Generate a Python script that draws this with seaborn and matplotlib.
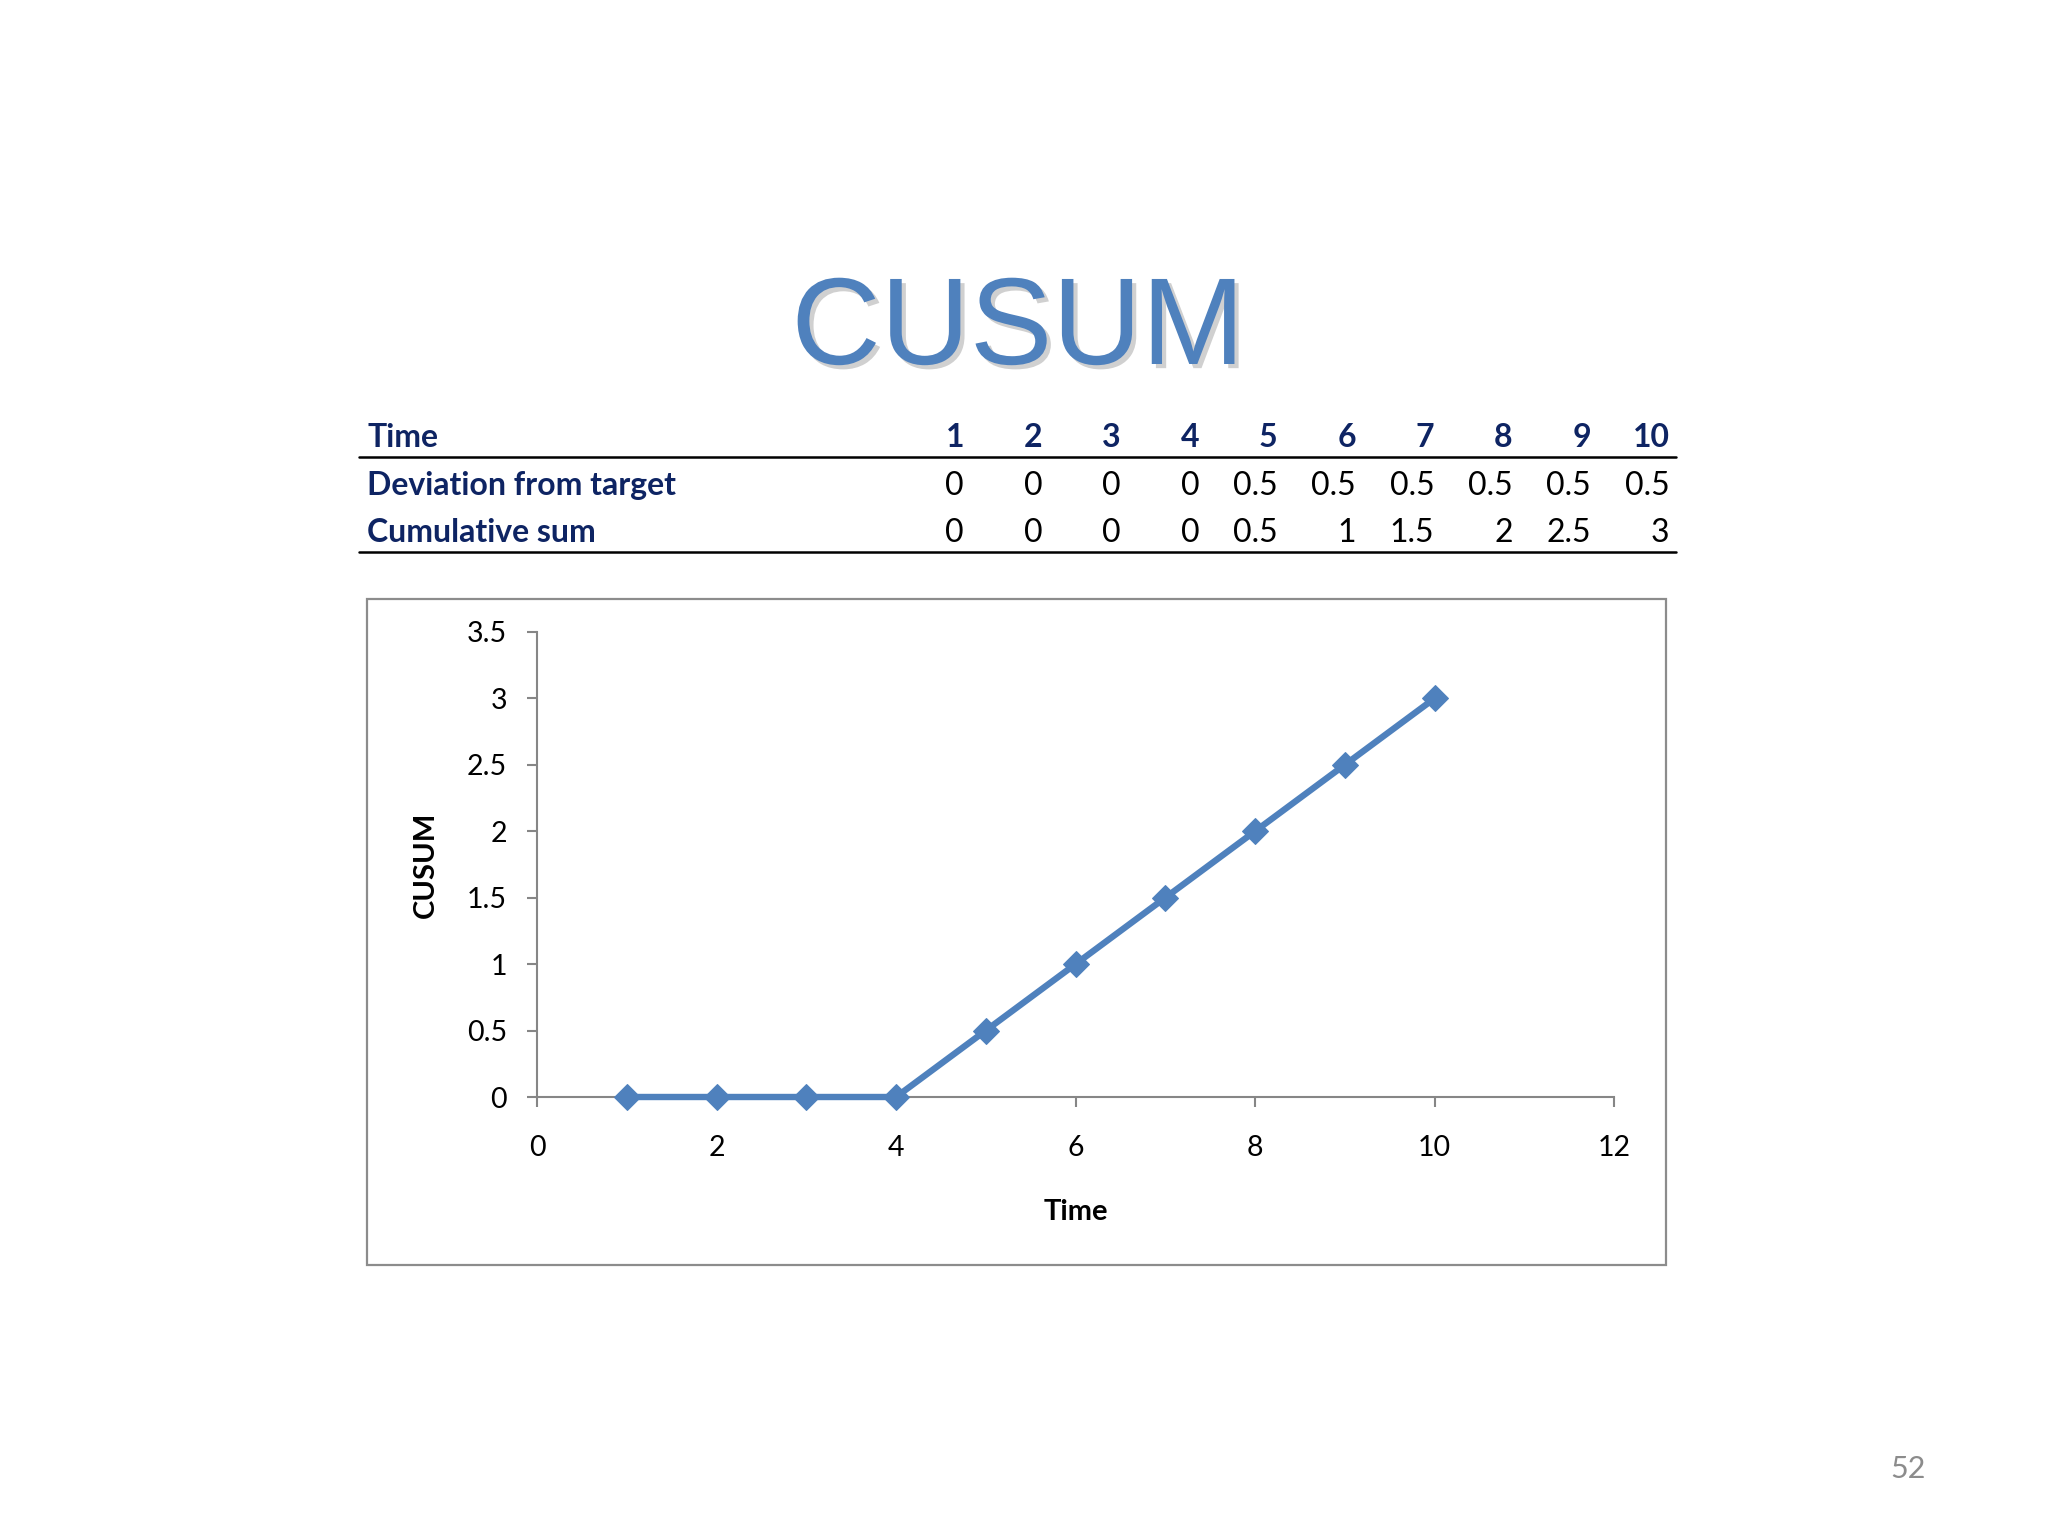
import matplotlib
matplotlib.use("Agg")
import matplotlib.pyplot as plt
import matplotlib.patheffects as pe
from matplotlib.lines import Line2D
from matplotlib.patches import Rectangle
import pandas as pd
import seaborn as sns

# Datos de la tabla / gráfico
tiempos = [1, 2, 3, 4, 5, 6, 7, 8, 9, 10]
desviacion = [0, 0, 0, 0, 0.5, 0.5, 0.5, 0.5, 0.5, 0.5]
suma_acumulada = [0, 0, 0, 0, 0.5, 1, 1.5, 2, 2.5, 3]
etiquetas_filas = ["Time", "Deviation from target", "Cumulative sum"]
ticks_x = [0, 2, 4, 6, 8, 10, 12]
ticks_y = [0, 0.5, 1, 1.5, 2, 2.5, 3, 3.5]

AZUL = "#4F81BD"
NAVY = "#0E2463"
GRIS = "#868686"
W, H = 2048, 1536

sns.set_theme(style="white")
plt.rcParams["font.family"] = ["Lato", "DejaVu Sans"]

fig = plt.figure(figsize=(W / 100, H / 100), dpi=100)
fig.patch.set_facecolor("white")


def fx(px):
    return px / W


def fy(py):
    return 1 - py / H


# Título con sombra
fig.text(fx(1018), fy(364), "CUSUM", ha="center", va="baseline",
         fontsize=89, color=AZUL, family=["Liberation Sans", "DejaVu Sans"],
         path_effects=[pe.withSimplePatchShadow(offset=(3, -3), shadow_rgbFace="#8a8a8a", alpha=0.4)])

# Tabla
filas_y = [447, 495, 542]
col_derecha = [964 + 78.4 * i for i in range(len(tiempos))]
for j, etiqueta in enumerate(etiquetas_filas):
    fig.text(fx(367), fy(filas_y[j]), etiqueta, ha="left", va="baseline",
             fontsize=23, fontweight="bold", color=NAVY)


def fmt(v):
    return f"{v:g}"


for i, t in enumerate(tiempos):
    fig.text(fx(col_derecha[i]), fy(filas_y[0]), str(t), ha="right", va="baseline",
             fontsize=23, fontweight="bold", color=NAVY)
    fig.text(fx(col_derecha[i]), fy(filas_y[1]), fmt(desviacion[i]), ha="right", va="baseline",
             fontsize=23, color="black")
    fig.text(fx(col_derecha[i]), fy(filas_y[2]), fmt(suma_acumulada[i]), ha="right", va="baseline",
             fontsize=23, color="black")

for yl in (457, 552):
    fig.add_artist(Line2D([fx(359), fx(1676)], [fy(yl), fy(yl)], transform=fig.transFigure,
                          color="black", linewidth=1.8))

# Marco del gráfico
fig.add_artist(Rectangle((fx(367), fy(1265)), fx(1666) - fx(367), fy(599) - fy(1265),
                         transform=fig.transFigure, fill=False, edgecolor="#8C8C8C", linewidth=1.6))

# Gráfico
ax = fig.add_axes([fx(537), fy(1097), fx(1614) - fx(537), fy(632) - fy(1097)])
ax.set_facecolor("none")
df = pd.DataFrame({"Time": tiempos, "CUSUM": suma_acumulada})
sns.lineplot(data=df, x="Time", y="CUSUM", ax=ax, color=AZUL, linewidth=4.6,
             marker="D", markersize=13, markeredgecolor=AZUL, clip_on=False, zorder=5)

ax.set_xlim(0, 12)
ax.set_ylim(0, 3.5)
ax.set_xticks(ticks_x)
ax.set_yticks(ticks_y)
ax.set_yticklabels([fmt(v) for v in ticks_y])
for s in ("top", "right"):
    ax.spines[s].set_visible(False)
for s in ("left", "bottom"):
    ax.spines[s].set_color(GRIS)
    ax.spines[s].set_linewidth(1.5)
    ax.spines[s].set_zorder(1)
ax.tick_params(axis="both", direction="out", length=7.5, width=1.5, color=GRIS,
               labelsize=20.5, labelcolor="black", bottom=True, left=True)
ax.tick_params(axis="x", pad=20)
ax.tick_params(axis="y", pad=14)
ax.grid(False)

ax.set_xlabel("Time", fontsize=21, fontweight="bold", color="black", va="center")
ax.xaxis.set_label_coords(0.5, (1097 - 1212) / (1097 - 632))
ax.set_ylabel("CUSUM", fontsize=21, fontweight="bold", color="black", va="center")
ax.yaxis.set_label_coords((426 - 537) / (1614 - 537), 0.5)

# Número de página
fig.text(fx(1908), fy(1478), "52", ha="center", va="baseline", fontsize=22, color="#8C8C8C")

fig.savefig("out.png", dpi=100, facecolor="white")
